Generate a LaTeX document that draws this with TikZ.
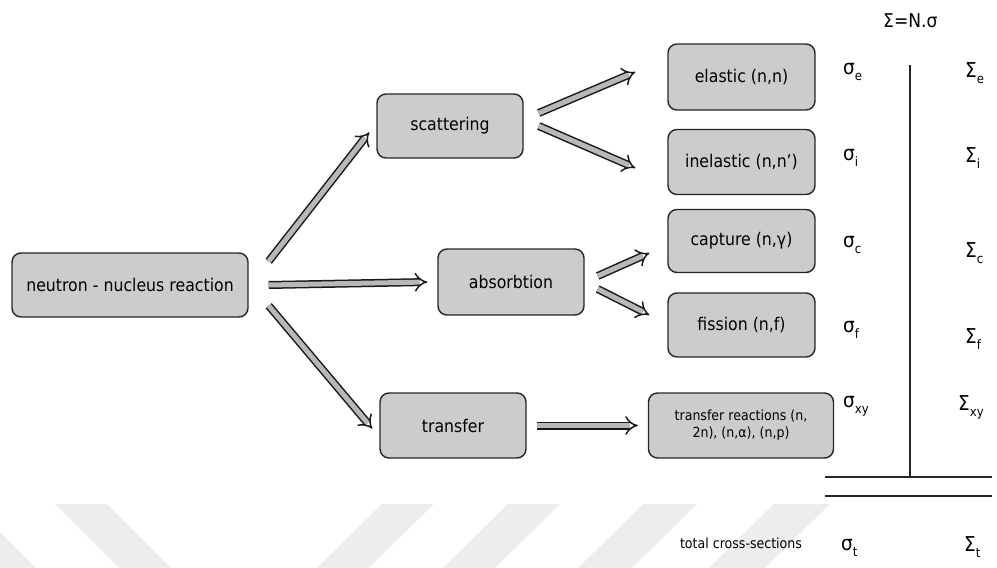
\documentclass[tikz,border=0pt]{standalone}
\usepackage{fontspec}
\setmainfont{DejaVu Sans}[FakeStretch=0.9]
\usetikzlibrary{arrows.meta,calc}

\newcommand{\sublow}[1]{\raisebox{-0.6ex}{\fontsize{13}{13}\selectfont #1}}

\tikzset{
  box/.style={draw=black!85, line width=1.4pt, fill=black!20, rounded corners=9pt,
    align=center, inner sep=0pt, font=\fontsize{17.5}{21}\selectfont},
  link/.style={draw=black!90, line width=1.5pt, double=black!28, double distance=5pt,
    -{Implies[length=9pt,width=16pt]}},
  xsec/.style={anchor=base west, inner sep=0pt, font=\fontsize{20.5}{20}\selectfont},
  band/.style={fill=black!7, draw=none},
  rule/.style={line width=1.3pt, draw=black!85}
}

\begin{document}
\begin{tikzpicture}[x=1pt, y=-1pt]
\useasboundingbox (0,0) rectangle (997,568);

% faint diagonal bands along the bottom edge
\fill[band] (55,504) -- (107,504) -- (171,568) -- (119,568) -- cycle;
\fill[band] (0,532) -- (36,568) -- (0,568) -- cycle;
\fill[band] (382,504) -- (434,504) -- (369,568) -- (317,568) -- cycle;
\fill[band] (508,504) -- (560,504) -- (495,568) -- (443,568) -- cycle;
\fill[band] (643,504) -- (697,504) -- (632,568) -- (578,568) -- cycle;
\fill[band] (774,504) -- (830,504) -- (765,568) -- (709,568) -- cycle;

% reaction boxes
\node[box, minimum width=236pt, minimum height=64pt] (nnr) at (130,285) {neutron - nucleus reaction};
\node[box, minimum width=146pt, minimum height=64pt] (scat) at (450,126) {scattering};
\node[box, minimum width=146pt, minimum height=66pt] (abs) at (511,282) {absorbtion};
\node[box, minimum width=146pt, minimum height=65pt] (trans) at (453,425.5) {transfer};
\node[box, minimum width=147pt, minimum height=66pt] (el) at (741.5,77) {elastic (n,n)};
\node[box, minimum width=147pt, minimum height=65pt] (inel) at (741.5,162) {inelastic (n,n’)};
\node[box, minimum width=147pt, minimum height=63pt] (cap) at (741.5,241) {capture (n,γ)};
\node[box, minimum width=147pt, minimum height=64pt] (fis) at (741.5,325) {fission (n,f)};
\node[box, minimum width=185pt, minimum height=65pt, font=\fontsize{14}{17}\selectfont] (tr) at (741,425.5)
  {transfer reactions (n,\\2n), (n,α), (n,p)};

% connectors between the boxes
\draw[link] ([shift={(20,9)}]nnr.north east) -- ([shift={(-7,39)}]scat.north west);
\draw[link] ([shift={(20,0)}]nnr.east) -- ([shift={(-10,0)}]abs.west);
\draw[link] ([shift={(20,-12)}]nnr.south east) -- ([shift={(-7,-30)}]trans.south west);
\draw[link] ([shift={(15,-13)}]scat.east) -- ([shift={(-32,-5)}]el.west);
\draw[link] ([shift={(15,0)}]scat.east) -- ([shift={(-32,6)}]inel.west);
\draw[link] ([shift={(13,-6)}]abs.east) -- ([shift={(-18,12)}]cap.west);
\draw[link] ([shift={(13,7)}]abs.east) -- ([shift={(-18,-10)}]fis.west);
\draw[link] ([shift={(10,0)}]trans.east) -- ([shift={(-10,0)}]tr.west);

% microscopic cross-sections
\node[xsec] (se) at (843,74) {σ\sublow{e}};
\node[xsec] (si) at (843,160) {σ\sublow{i}};
\node[xsec] (sc) at (843,247) {σ\sublow{c}};
\node[xsec] (sf) at (843,332) {σ\sublow{f}};
\node[xsec] (sxy) at (843,407) {σ\sublow{xy}};
\node[xsec] (st) at (841,550) {σ\sublow{t}};

% macroscopic cross-sections
\node[xsec] (Se) at (965,77) {Σ\sublow{e}};
\node[xsec] (Si) at (965,162) {Σ\sublow{i}};
\node[xsec] (Sc) at (965,257) {Σ\sublow{c}};
\node[xsec] (Sf) at (965,343) {Σ\sublow{f}};
\node[xsec] (Sxy) at (958,410) {Σ\sublow{xy}};
\node[xsec] (St) at (964,551) {Σ\sublow{t}};

\node[xsec, font=\fontsize{19}{19}\selectfont] (def) at (883,27) {Σ=N.σ};
\node[inner sep=0pt, font=\fontsize{14}{14}\selectfont] (tot) at (741,543) {total cross-sections};

% summation rules
\coordinate (vtop) at (910,65);
\coordinate (vbot) at (910,477);
\coordinate (h1l) at (825,477);
\coordinate (h1r) at (992,477);
\coordinate (h2l) at (825,496);
\coordinate (h2r) at (992,496);
\draw[rule] (vtop) -- (vbot);
\draw[rule] (h1l) -- (h1r);
\draw[rule] (h2l) -- (h2r);
\end{tikzpicture}
\end{document}
